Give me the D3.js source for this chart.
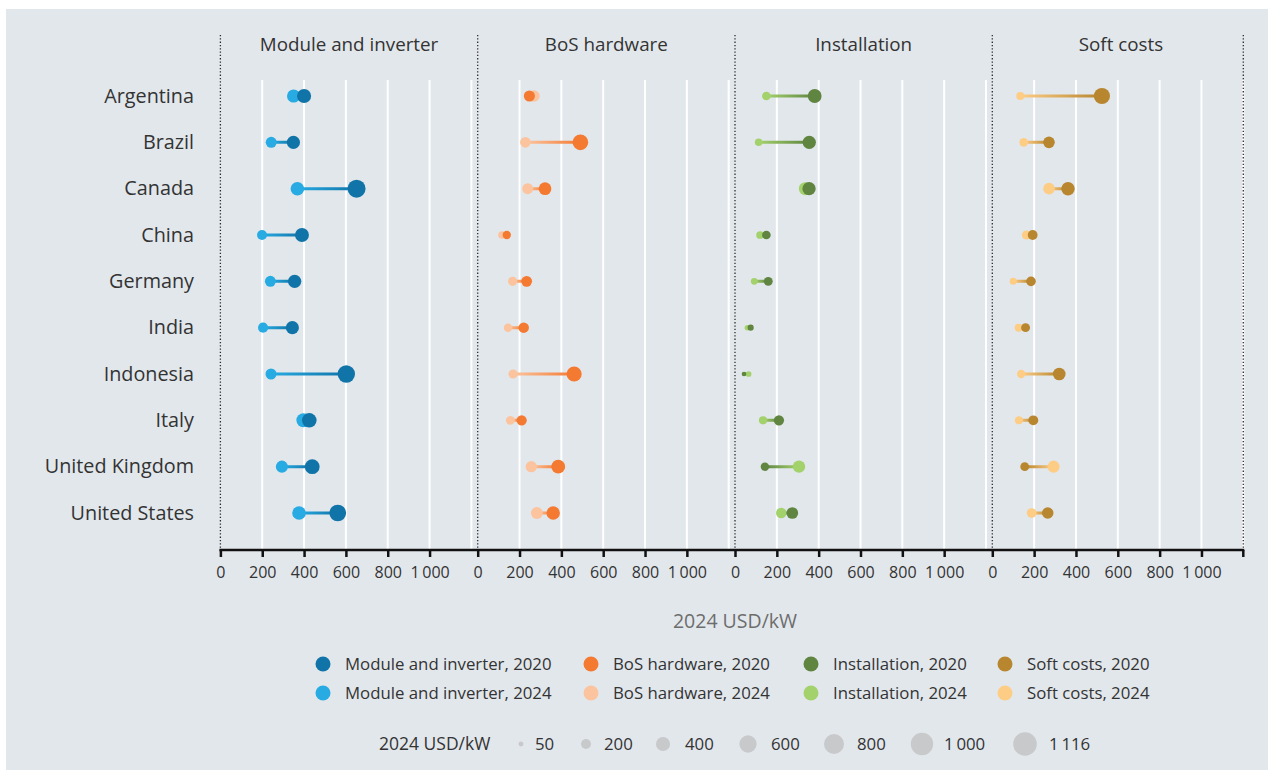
<!DOCTYPE html>
<html>
<head>
<meta charset="utf-8">
<script src="https://cdn.jsdelivr.net/npm/d3@7/dist/d3.min.js"></script>
<style>
  html, body { margin: 0; padding: 0; background: #ffffff; }
  svg { display: block; font-family: "Open Sans", "Noto Sans", sans-serif; }
</style>
</head>
<body>
<svg id="chart" width="1274" height="772"></svg>
<script>
// Cost components per country, 2024 USD/kW
const countries = ["Argentina", "Brazil", "Canada", "China", "Germany", "India", "Indonesia", "Italy", "United Kingdom", "United States"];
const categories = ["Module and inverter", "BoS hardware", "Installation", "Soft costs"];

const module2020  = [400, 349, 651, 390, 355, 344, 602, 425, 439, 561];
const module2024  = [350, 243, 368, 199, 239, 204, 242, 397, 294, 376];
const bos2020     = [247, 491, 322, 139, 234, 220, 461, 210, 385, 361];
const bos2024     = [269, 228, 239, 116, 167, 145, 169, 156, 256, 283];
const install2020 = [381, 355, 354, 150, 159, 75, 43, 210, 143, 274];
const install2024 = [150, 113, 336, 120, 92, 59, 65, 134, 306, 221];
const soft2020    = [524, 271, 362, 193, 185, 159, 320, 196, 155, 265];
const soft2024    = [134, 150, 271, 163, 100, 126, 138, 127, 293, 188];

const tickValues = [0, 200, 400, 600, 800, 1000];
const tickLabels = ["0", "200", "400", "600", "800", "1\u2009000"];
const gridValues = [200, 400, 600, 800, 1000, 1200];
const sizeLegendValues = [50, 200, 400, 600, 800, 1000, 1116];
const sizeLegendLabels = ["50", "200", "400", "600", "800", "1\u2009000", "1\u2009116"];

const colors2020 = ["#1174a8", "#f47a32", "#5f8541", "#b8862f"];
const colors2024 = ["#27abe2", "#fbc49e", "#a3d16c", "#fdcd86"];

const series2020 = [module2020, bos2020, install2020, soft2020];
const series2024 = [module2024, bos2024, install2024, soft2024];

const svg = d3.select("#chart");

// background panel
svg.append("rect").attr("x", 6).attr("y", 9).attr("width", 1262).attr("height", 761).attr("fill", "#e2e7ec");

// layout
const panelStart0 = 220.4, panelStep = 257.3, panelSpan = 251;
const axisY = 550, gridTop = 80, dotTop = 35;

const y = d3.scalePoint().domain(countries).range([96, 513]);
const xScales = categories.map((c, i) =>
  d3.scaleLinear().domain([0, 1200]).range([panelStart0 + i * panelStep, panelStart0 + i * panelStep + panelSpan]));
const r = d3.scaleSqrt().domain([0, 1116]).range([0, 11.8]);

const defs = svg.append("defs");

// white gridlines
categories.forEach((c, i) => {
  svg.append("g").selectAll("line").data(gridValues).join("line")
    .attr("x1", d => xScales[i](d)).attr("x2", d => xScales[i](d))
    .attr("y1", gridTop).attr("y2", axisY)
    .attr("stroke", "#ffffff").attr("stroke-width", 2);
});

// dotted panel separators
const sepX = categories.map((c, i) => xScales[i](0)).concat([xScales[3](1200)]);
svg.append("g").selectAll("line").data(sepX).join("line")
  .attr("x1", d => d).attr("x2", d => d)
  .attr("y1", dotTop).attr("y2", axisY)
  .attr("stroke", "#2b2b2b").attr("stroke-width", 1.3)
  .attr("stroke-dasharray", "1.3,2");

// panel titles
svg.append("g").selectAll("text").data(categories).join("text")
  .attr("x", (d, i) => (xScales[i](0) + xScales[i](1230)) / 2)
  .attr("y", 51)
  .attr("text-anchor", "middle")
  .attr("font-size", 18.8).attr("fill", "#333")
  .text(d => d);

// country labels
svg.append("g").selectAll("text").data(countries).join("text")
  .attr("x", 194).attr("y", d => y(d) + 6.5)
  .attr("text-anchor", "end")
  .attr("font-size", 19.8).attr("fill", "#333")
  .text(d => d);

// dumbbells
categories.forEach((c, i) => {
  const g = svg.append("g");
  const x = xScales[i];
  countries.forEach((country, k) => {
    const a = series2024[i][k], b = series2020[i][k];
    const id = `grad-${i}-${k}`;
    const grad = defs.append("linearGradient").attr("id", id)
      .attr("gradientUnits", "userSpaceOnUse")
      .attr("x1", x(a)).attr("x2", x(b)).attr("y1", 0).attr("y2", 0);
    grad.append("stop").attr("offset", "0%").attr("stop-color", colors2024[i]);
    grad.append("stop").attr("offset", "100%").attr("stop-color", colors2020[i]);
    g.append("line")
      .attr("x1", x(a)).attr("x2", x(b))
      .attr("y1", y(country)).attr("y2", y(country) + 0.01)
      .attr("stroke", `url(#${id})`).attr("stroke-width", 3);
  });
  g.selectAll("circle.y24").data(series2024[i]).join("circle").attr("class", "y24")
    .attr("cx", d => x(d)).attr("cy", (d, k) => y(countries[k])).attr("r", d => r(d))
    .attr("fill", colors2024[i]);
  g.selectAll("circle.y20").data(series2020[i]).join("circle").attr("class", "y20")
    .attr("cx", d => x(d)).attr("cy", (d, k) => y(countries[k])).attr("r", d => r(d))
    .attr("fill", colors2020[i]);
});

// bottom axis
svg.append("line").attr("x1", xScales[0](0) - 1).attr("x2", xScales[3](1200) + 1)
  .attr("y1", axisY).attr("y2", axisY).attr("stroke", "#111").attr("stroke-width", 2.5);
categories.forEach((c, i) => {
  const ax = d3.axisBottom(xScales[i]).tickValues(tickValues)
    .tickSize(7).tickPadding(10)
    .tickFormat((d, j) => tickLabels[j]);
  const ga = svg.append("g").attr("transform", `translate(0,${axisY})`).call(ax);
  ga.select(".domain").remove();
  ga.selectAll(".tick line").attr("stroke", "#111").attr("stroke-width", 2.5);
  ga.selectAll(".tick text").attr("font-size", 16).attr("fill", "#333")
    .attr("font-family", "\"Open Sans\", sans-serif");
});
svg.append("line").attr("x1", xScales[3](1200)).attr("x2", xScales[3](1200))
  .attr("y1", axisY).attr("y2", axisY + 7).attr("stroke", "#111").attr("stroke-width", 2.5);

// axis title
svg.append("text").attr("x", 735).attr("y", 628).attr("text-anchor", "middle")
  .attr("font-size", 19.5).attr("fill", "#6d6d6d").text("2024 USD/kW");

// colour legend
const legendX = [323, 591, 811, 1005];
const legend = svg.append("g");
categories.forEach((c, i) => {
  [[colors2020[i], "2020", 664], [colors2024[i], "2024", 693]].forEach(([col, yr, ly]) => {
    legend.append("circle").attr("cx", legendX[i]).attr("cy", ly).attr("r", 7.5).attr("fill", col);
    legend.append("text").attr("x", legendX[i] + 22).attr("y", ly + 6)
      .attr("font-size", 16.8).attr("fill", "#333").text(`${c}, ${yr}`);
  });
});

// size legend
const sizeX = [521, 586, 663, 748, 834, 922, 1025];
const sizeTextX = [535, 604, 685, 771, 857, 944, 1049];
const sl = svg.append("g");
sl.append("text").attr("x", 379).attr("y", 750).attr("font-size", 17.5).attr("fill", "#333").text("2024 USD/kW");
sizeLegendValues.forEach((v, j) => {
  sl.append("circle").attr("cx", sizeX[j]).attr("cy", 744).attr("r", r(v)).attr("fill", "#c8c9cb");
  sl.append("text").attr("x", sizeTextX[j]).attr("y", 750)
    .attr("font-size", 16.8).attr("fill", "#333").text(sizeLegendLabels[j]);
});
</script>
</body>
</html>
